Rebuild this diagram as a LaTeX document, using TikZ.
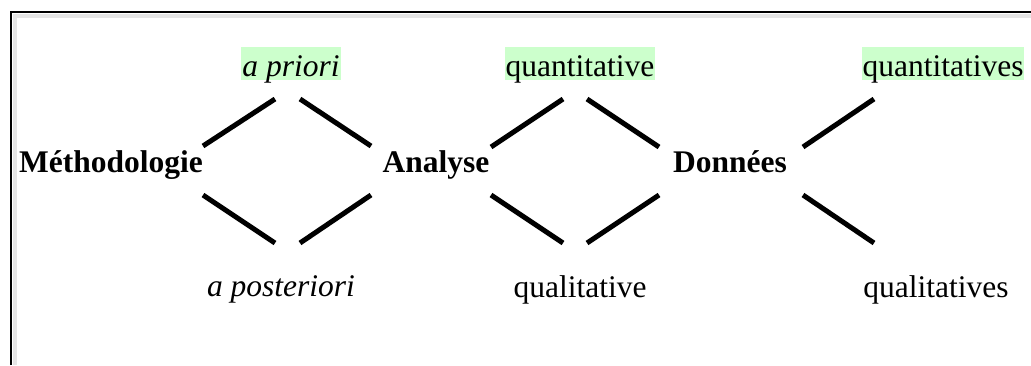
\documentclass[tikz,border=0pt]{standalone}
\usepackage{fontspec}
\setmainfont{Liberation Serif}
\usepackage{xcolor}
\usepackage{tikz}
\definecolor{hlgreen}{RGB}{204,255,204}

\begin{document}
\begin{tikzpicture}[
    x=1pt, y=-1pt,
    font=\fontsize{31.5pt}{36pt}\selectfont,
    term/.style={inner sep=0pt, anchor=base, font=\fontsize{31.5pt}{36pt}\selectfont\bfseries},
    leaf/.style={inner sep=0pt, anchor=base},
    hl/.style={leaf, fill=hlgreen, inner xsep=1pt, inner ysep=0pt, text height=29pt, text depth=4pt},
    link/.style={line width=5pt}
]
\useasboundingbox (0,0) rectangle (1031,365);
% frame
\draw[black!10, line width=4pt] (15,365) -- (15,16) -- (1031,16);
\draw[line width=1.6pt] (11,365) -- (11,12) -- (1031,12);

\node[term] (meth) at (111,172) {Méthodologie};
\node[term] (analyse) at (436,172) {Analyse};
\node[term] (donnees) at (730,172) {Données};
\node[hl] (priori) at (291,76) {\itshape a priori};
\node[leaf] (posteriori) at (281,296) {\itshape a posteriori};
\node[hl] (quanti) at (580,76) {quantitative};
\node[leaf] (quali) at (580,297) {qualitative};
\node[hl] (quantis) at (943,76) {quantitatives};
\node[leaf] (qualis) at (936,297) {qualitatives};

% branch ends
\coordinate (mp1) at (203,146); \coordinate (mp2) at (275,99);
\coordinate (pa1) at (300,99);  \coordinate (pa2) at (371,146);
\coordinate (mq1) at (203,195); \coordinate (mq2) at (275,243);
\coordinate (qa1) at (300,243); \coordinate (qa2) at (371,195);
\coordinate (aq1) at (491,147); \coordinate (aq2) at (563,99);
\coordinate (qd1) at (587,99);  \coordinate (qd2) at (659,147);
\coordinate (al1) at (491,195); \coordinate (al2) at (563,243);
\coordinate (ld1) at (587,243); \coordinate (ld2) at (659,195);
\coordinate (dq1) at (803,147); \coordinate (dq2) at (874,99);
\coordinate (dl1) at (803,195); \coordinate (dl2) at (874,243);

\draw[link] (mp1) -- (mp2);
\draw[link] (pa1) -- (pa2);
\draw[link] (mq1) -- (mq2);
\draw[link] (qa1) -- (qa2);
\draw[link] (aq1) -- (aq2);
\draw[link] (qd1) -- (qd2);
\draw[link] (al1) -- (al2);
\draw[link] (ld1) -- (ld2);
\draw[link] (dq1) -- (dq2);
\draw[link] (dl1) -- (dl2);
\end{tikzpicture}
\end{document}
